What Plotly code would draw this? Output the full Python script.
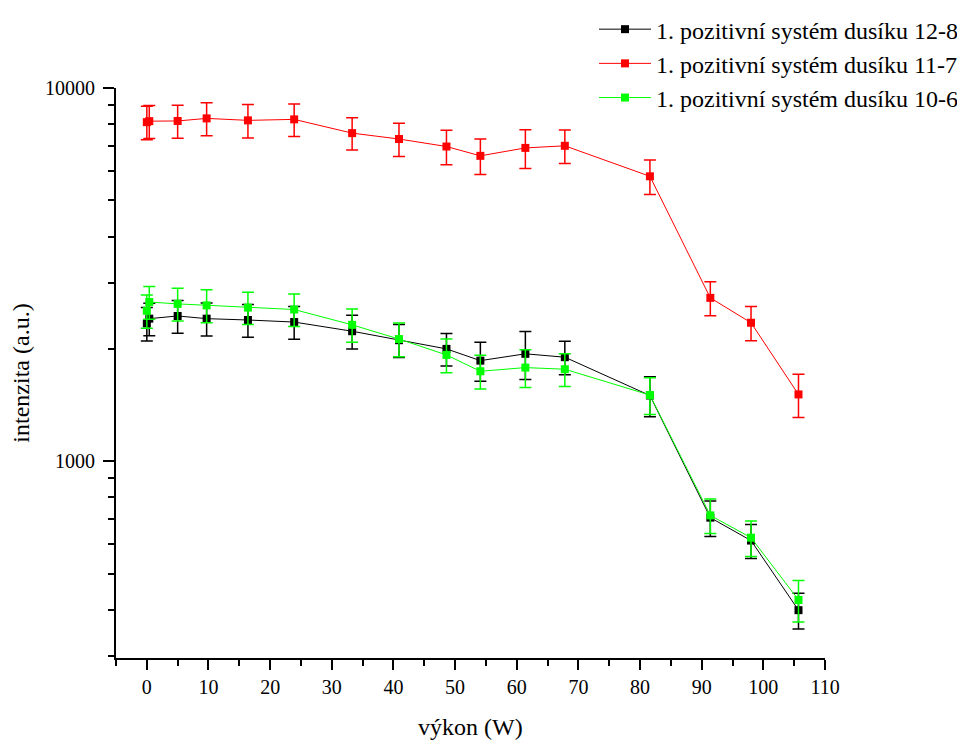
import plotly.graph_objects as go

# power (W)
power = [0, 0.4, 5, 9.7, 16.4, 23.9, 33.3, 40.9, 48.6, 54.1, 61.4, 67.8, 81.6, 91.4, 98.0, 105.7]

# 1. pozitivní systém dusíku 12-8 (black)
int_12_8 = [2340, 2410, 2450, 2410, 2390, 2360, 2230, 2110, 2000, 1860, 1940, 1900, 1500, 706, 613, 399]
err_12_8 = [240, 240, 247, 245, 240, 236, 230, 215, 200, 223, 285, 195, 185, 77, 64, 44]

# 1. pozitivní systém dusíku 11-7 (red)
int_11_7 = [8100, 8150, 8160, 8290, 8190, 8240, 7570, 7300, 6970, 6580, 6910, 7000, 5800, 2740, 2350, 1510]
err_11_7 = [830, 830, 830, 840, 845, 825, 753, 750, 737, 715, 820, 720, 615, 285, 246, 200]

# 1. pozitivní systém dusíku 10-6 (green)
int_10_6 = [2530, 2670, 2640, 2616, 2580, 2550, 2320, 2125, 1927, 1742, 1782, 1764, 1504, 716, 624, 425]
err_10_6 = [260, 270, 265, 265, 255, 255, 236, 220, 200, 180, 206, 178, 170, 76, 68, 54]

series_names = ["1. pozitivní systém dusíku 12-8",
                "1. pozitivní systém dusíku 11-7",
                "1. pozitivní systém dusíku 10-6"]

y_major = [1000, 10000]
y_major_text = ["1000", "10000"]
y_minor = [300, 400, 500, 600, 700, 800, 900, 2000, 3000, 4000, 5000, 6000, 7000, 8000, 9000]
x_ticks = [0, 10, 20, 30, 40, 50, 60, 70, 80, 90, 100, 110]
x_title = "výkon (W)"
y_title = "intenzita (a.u.)"

FONT = "Liberation Serif"

fig = go.Figure()
for name, vals, errs, col in [
    (series_names[0], int_12_8, err_12_8, "#000000"),
    (series_names[1], int_11_7, err_11_7, "#ff0000"),
    (series_names[2], int_10_6, err_10_6, "#00ff00"),
]:
    fig.add_trace(go.Scatter(
        x=power, y=vals, name=name, mode="lines+markers",
        line=dict(color=col, width=1),
        marker=dict(symbol="square", size=8, color=col),
        error_y=dict(type="data", array=errs, visible=True,
                     color=col, thickness=1.5, width=6),
    ))

fig.update_layout(
    width=949, height=734,
    margin=dict(l=108, r=132, t=80, b=84, autoexpand=False),
    paper_bgcolor="white", plot_bgcolor="white",
    font=dict(family=FONT, size=20, color="black"),
    showlegend=True,
    legend=dict(x=0.6742, y=1.142, xanchor="left", yanchor="top",
                font=dict(family=FONT, size=24, color="black"),
                bgcolor="rgba(0,0,0,0)", tracegroupgap=0,
                itemwidth=52),
    annotations=[dict(text=x_title, xref="paper", yref="paper",
                      x=0.5, y=-0.121, xanchor="center", yanchor="middle",
                      showarrow=False, font=dict(family=FONT, size=24, color="black"))],
)
fig.update_xaxes(
    range=[-5, 110], tickmode="array", tickvals=x_ticks, automargin=False,
    showline=True, linecolor="black", linewidth=2,
    ticks="outside", ticklen=10, tickwidth=2, tickcolor="black",
    minor=dict(dtick=5, tick0=0, ticks="outside", ticklen=6, tickwidth=2, tickcolor="black"),
    showgrid=False, zeroline=False,
    tickfont=dict(family=FONT, size=20),
)
fig.update_yaxes(
    type="log", range=[2.4728, 4], automargin=False,
    tickmode="array", tickvals=y_major, ticktext=y_major_text,
    showline=True, linecolor="black", linewidth=2,
    ticks="outside", ticklen=11, tickwidth=2, tickcolor="black", ticklabelstandoff=4,
    minor=dict(tickmode="array", tickvals=y_minor, ticks="outside", ticklen=6, tickwidth=2, tickcolor="black"),
    showgrid=False, zeroline=False,
    tickfont=dict(family=FONT, size=20),
    title=dict(text=y_title, font=dict(family=FONT, size=24)),
)

fig.write_html("out.html")
